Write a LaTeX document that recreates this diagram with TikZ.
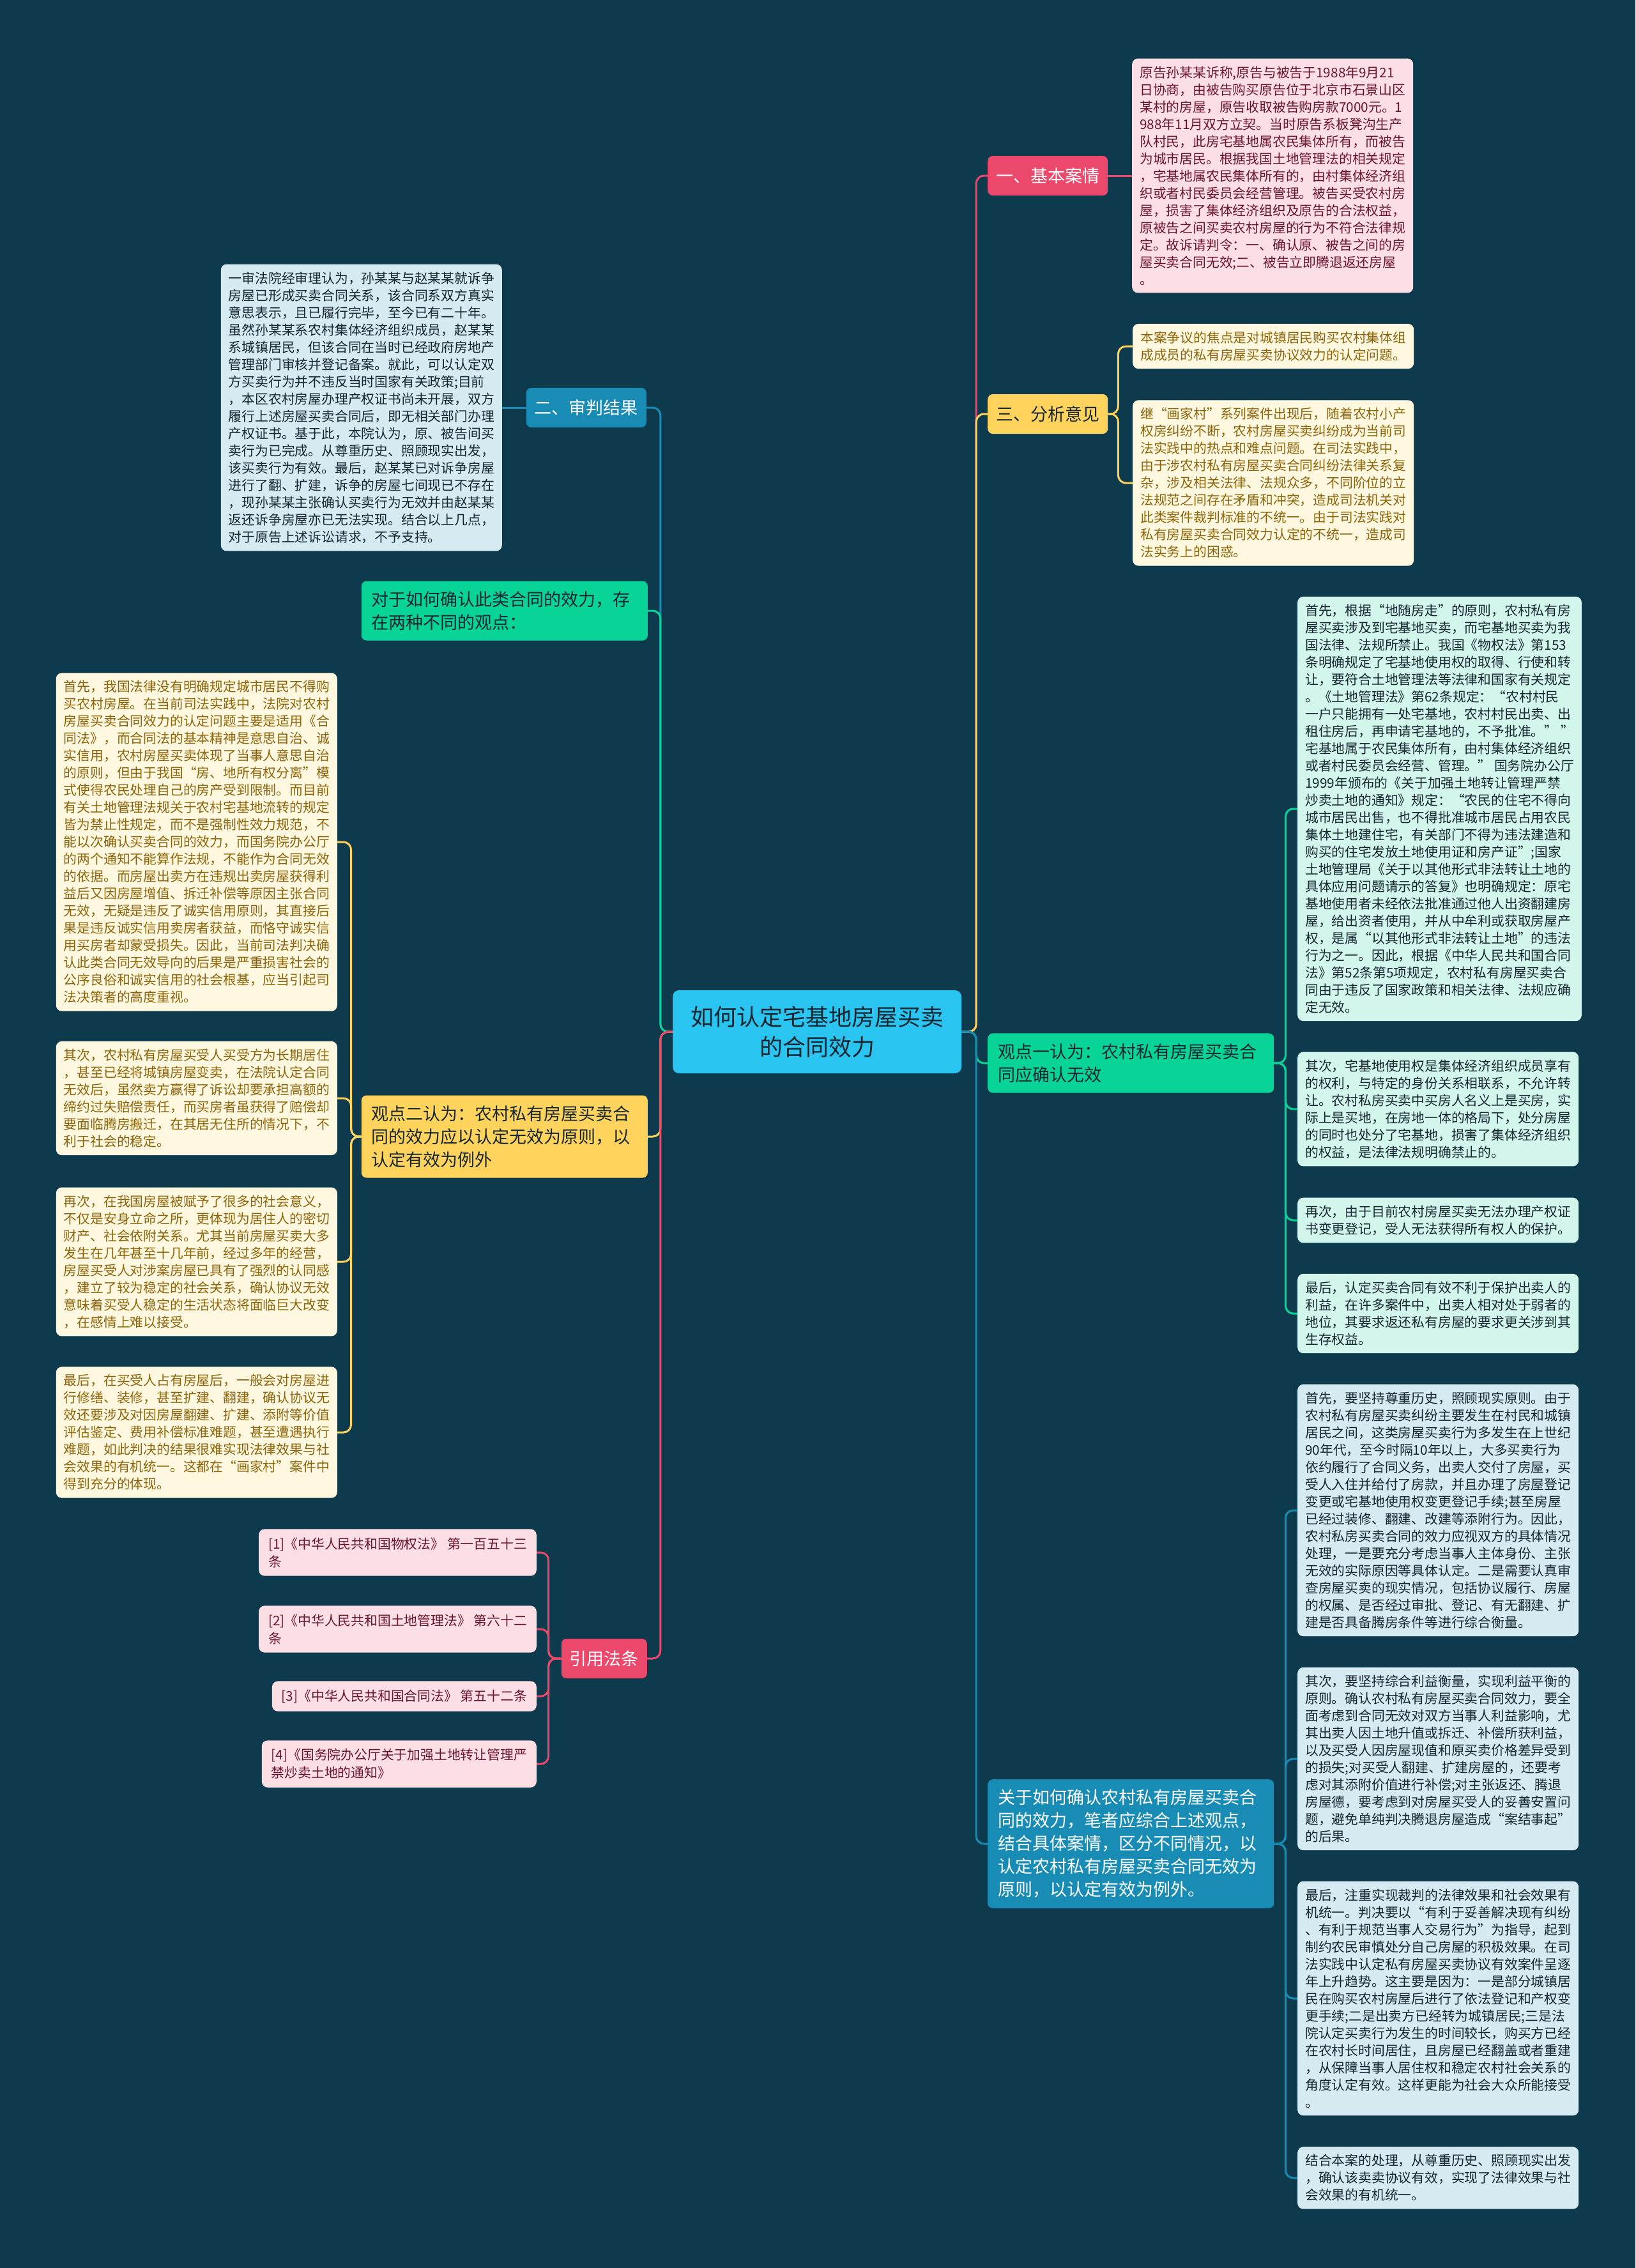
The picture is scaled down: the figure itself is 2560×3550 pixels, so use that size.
\documentclass[tikz,border=0pt]{standalone}
\usepackage{fontspec}
\setmainfont{Noto Sans CJK SC}
\usepackage{tikz}
\usetikzlibrary{positioning}
\definecolor{BgDark}{RGB}{13,58,77}
\definecolor{RoseMain}{RGB}{236,72,107}
\definecolor{RoseLight}{RGB}{252,222,229}
\definecolor{RoseText}{RGB}{105,22,45}
\definecolor{SunMain}{RGB}{255,211,92}
\definecolor{SunLight}{RGB}{255,248,224}
\definecolor{SunText}{RGB}{140,100,10}
\definecolor{SeaMain}{RGB}{25,140,182}
\definecolor{SeaLight}{RGB}{214,234,242}
\definecolor{MintMain}{RGB}{8,212,152}
\definecolor{MintLight}{RGB}{210,245,236}
\definecolor{SkyMain}{RGB}{42,196,240}
\definecolor{InkDark}{RGB}{22,38,48}

\begin{document}
\begin{tikzpicture}[x=1pt,y=-1pt,
 hubbox/.style={fill=SkyMain, text=InkDark, rounded corners=10pt, align=center, minimum width=452pt, minimum height=130pt, font=\fontsize{36}{47.5}\selectfont},
 topicbox/.style={rounded corners=8pt, minimum height=62pt, inner xsep=13pt, font=\fontsize{27}{36}\selectfont},
 widebox/.style={rounded corners=8pt, align=left, text width=416pt, inner xsep=16pt, inner ysep=16pt, font=\fontsize{27}{36}\selectfont},
 notebox/.style={rounded corners=9pt, align=left, inner xsep=12pt, inner ysep=12pt, font=\fontsize{20.8}{27}\selectfont},
 rosenote/.style={notebox, fill=RoseLight, text=RoseText},
 refbox/.style={rosenote, inner xsep=15pt, inner ysep=13pt, font=\fontsize{20.8}{28}\selectfont},
 sunnote/.style={notebox, fill=SunLight, text=SunText},
 seanote/.style={notebox, fill=SeaLight, text=InkDark},
 mintnote/.style={notebox, fill=MintLight, text=InkDark},
 linkrose/.style={draw=RoseMain, line width=3pt, rounded corners=12pt},
 linksun/.style={draw=SunMain, line width=3pt, rounded corners=12pt},
 linksea/.style={draw=SeaMain, line width=3pt, rounded corners=12pt},
 linkmint/.style={draw=MintMain, line width=3pt, rounded corners=12pt}
]
\fill[BgDark] (0,0) rectangle (2560,3550);

\node[hubbox] (ctr) at (1279,1615) {如何认定宅基地房屋买卖\\的合同效力};

\node[topicbox, fill=RoseMain, text=white, anchor=west] (jiben) at (1546,275) {一、基本案情};
\node[rosenote, anchor=west] (jibentxt) at (1772,275) {原告孙某某诉称,原告与被告于1988年9月21\\日协商，由被告购买原告位于北京市石景山区\\某村的房屋，原告收取被告购房款7000元。1\\988年11月双方立契。当时原告系板凳沟生产\\队村民，此房宅基地属农民集体所有，而被告\\为城市居民。根据我国土地管理法的相关规定\\，宅基地属农民集体所有的，由村集体经济组\\织或者村民委员会经营管理。被告买受农村房\\屋，损害了集体经济组织及原告的合法权益，\\原被告之间买卖农村房屋的行为不符合法律规\\定。故诉请判令：一、确认原、被告之间的房\\屋买卖合同无效;二、被告立即腾退返还房屋\\。};

\node[topicbox, fill=SunMain, text=InkDark, anchor=west] (fenxi) at (1546,648) {三、分析意见};
\node[sunnote, anchor=west] (fenxiA) at (1773,542) {本案争议的焦点是对城镇居民购买农村集体组\\成成员的私有房屋买卖协议效力的认定问题。};
\node[sunnote, anchor=west] (fenxiB) at (1773,756) {继“画家村”系列案件出现后，随着农村小产\\权房纠纷不断，农村房屋买卖纠纷成为当前司\\法实践中的热点和难点问题。在司法实践中，\\由于涉农村私有房屋买卖合同纠纷法律关系复\\杂，涉及相关法律、法规众多，不同阶位的立\\法规范之间存在矛盾和冲突，造成司法机关对\\此类案件裁判标准的不统一。由于司法实践对\\私有房屋买卖合同效力认定的不统一，造成司\\法实务上的困惑。};

\node[widebox, fill=MintMain, text=InkDark, anchor=west] (viewone) at (1546,1664) {观点一认为：农村私有房屋买卖合\\同应确认无效};
\node[mintnote, anchor=west] (oneA) at (2031,1266) {首先，根据“地随房走”的原则，农村私有房\\屋买卖涉及到宅基地买卖，而宅基地买卖为我\\国法律、法规所禁止。我国《物权法》第153\\条明确规定了宅基地使用权的取得、行使和转\\让，要符合土地管理法等法律和国家有关规定\\。《土地管理法》第62条规定：“农村村民\\一户只能拥有一处宅基地，农村村民出卖、出\\租住房后，再申请宅基地的，不予批准。” ”\\宅基地属于农民集体所有，由村集体经济组织\\或者村民委员会经营、管理。” 国务院办公厅\\1999年颁布的《关于加强土地转让管理严禁\\炒卖土地的通知》规定：“农民的住宅不得向\\城市居民出售，也不得批准城市居民占用农民\\集体土地建住宅，有关部门不得为违法建造和\\购买的住宅发放土地使用证和房产证”;国家\\土地管理局《关于以其他形式非法转让土地的\\具体应用问题请示的答复》也明确规定：原宅\\基地使用者未经依法批准通过他人出资翻建房\\屋，给出资者使用，并从中牟利或获取房屋产\\权，是属“以其他形式非法转让土地”的违法\\行为之一。因此，根据《中华人民共和国合同\\法》第52条第5项规定，农村私有房屋买卖合\\同由于违反了国家政策和相关法律、法规应确\\定无效。};
\node[mintnote, anchor=west] (oneB) at (2031,1736) {其次，宅基地使用权是集体经济组织成员享有\\的权利，与特定的身份关系相联系，不允许转\\让。农村私房买卖中买房人名义上是买房，实\\际上是买地，在房地一体的格局下，处分房屋\\的同时也处分了宅基地，损害了集体经济组织\\的权益，是法律法规明确禁止的。};
\node[mintnote, anchor=west] (oneC) at (2031,1910) {再次，由于目前农村房屋买卖无法办理产权证\\书变更登记，受人无法获得所有权人的保护。};
\node[mintnote, anchor=west] (oneD) at (2031,2056) {最后，认定买卖合同有效不利于保护出卖人的\\利益，在许多案件中，出卖人相对处于弱者的\\地位，其要求返还私有房屋的要求更关涉到其\\生存权益。};

\node[widebox, fill=SeaMain, text=white, anchor=west] (verdict) at (1546,2886) {关于如何确认农村私有房屋买卖合\\同的效力，笔者应综合上述观点，\\结合具体案情，区分不同情况，以\\认定农村私有房屋买卖合同无效为\\原则，以认定有效为例外。};
\node[seanote, anchor=west] (endA) at (2031,2364) {首先，要坚持尊重历史，照顾现实原则。由于\\农村私有房屋买卖纠纷主要发生在村民和城镇\\居民之间，这类房屋买卖行为多发生在上世纪\\90年代，至今时隔10年以上，大多买卖行为\\依约履行了合同义务，出卖人交付了房屋，买\\受人入住并给付了房款，并且办理了房屋登记\\变更或宅基地使用权变更登记手续;甚至房屋\\已经过装修、翻建、改建等添附行为。因此，\\农村私房买卖合同的效力应视双方的具体情况\\处理，一是要充分考虑当事人主体身份、主张\\无效的实际原因等具体认定。二是需要认真审\\查房屋买卖的现实情况，包括协议履行、房屋\\的权属、是否经过审批、登记、有无翻建、扩\\建是否具备腾房条件等进行综合衡量。};
\node[seanote, anchor=west] (endB) at (2031,2753) {其次，要坚持综合利益衡量，实现利益平衡的\\原则。确认农村私有房屋买卖合同效力，要全\\面考虑到合同无效对双方当事人利益影响，尤\\其出卖人因土地升值或拆迁、补偿所获利益，\\以及买受人因房屋现值和原买卖价格差异受到\\的损失;对买受人翻建、扩建房屋的，还要考\\虑对其添附价值进行补偿;对主张返还、腾退\\房屋德，要考虑到对房屋买受人的妥善安置问\\题，避免单纯判决腾退房屋造成“案结事起”\\的后果。};
\node[seanote, anchor=west] (endC) at (2031,3128) {最后，注重实现裁判的法律效果和社会效果有\\机统一。判决要以“有利于妥善解决现有纠纷\\、有利于规范当事人交易行为”为指导，起到\\制约农民审慎处分自己房屋的积极效果。在司\\法实践中认定私有房屋买卖协议有效案件呈逐\\年上升趋势。这主要是因为：一是部分城镇居\\民在购买农村房屋后进行了依法登记和产权变\\更手续;二是出卖方已经转为城镇居民;三是法\\院认定买卖行为发生的时间较长，购买方已经\\在农村长时间居住，且房屋已经翻盖或者重建\\，从保障当事人居住权和稳定农村社会关系的\\角度认定有效。这样更能为社会大众所能接受\\。};
\node[seanote, anchor=west] (endD) at (2031,3409) {结合本案的处理，从尊重历史、照顾现实出发\\，确认该卖卖协议有效，实现了法律效果与社\\会效果的有机统一。};

\node[topicbox, fill=SeaMain, text=white, anchor=east] (shenpan) at (1012,638) {二、审判结果};
\node[seanote, anchor=east] (shenpantxt) at (786,638) {一审法院经审理认为，孙某某与赵某某就诉争\\房屋已形成买卖合同关系，该合同系双方真实\\意思表示，且已履行完毕，至今已有二十年。\\虽然孙某某系农村集体经济组织成员，赵某某\\系城镇居民，但该合同在当时已经政府房地产\\管理部门审核并登记备案。就此，可以认定双\\方买卖行为并不违反当时国家有关政策;目前\\，本区农村房屋办理产权证书尚未开展，双方\\履行上述房屋买卖合同后，即无相关部门办理\\产权证书。基于此，本院认为，原、被告间买\\卖行为已完成。从尊重历史、照顾现实出发，\\该买卖行为有效。最后，赵某某已对诉争房屋\\进行了翻、扩建，诉争的房屋七间现已不存在\\，现孙某某主张确认买卖行为无效并由赵某某\\返还诉争房屋亦已无法实现。结合以上几点，\\对于原告上述诉讼请求，不予支持。};

\node[widebox, fill=MintMain, text=InkDark, anchor=east] (twoviews) at (1014,956) {对于如何确认此类合同的效力，存\\在两种不同的观点：};

\node[widebox, fill=SunMain, text=InkDark, anchor=east] (viewtwo) at (1014,1779) {观点二认为：农村私有房屋买卖合\\同的效力应以认定无效为原则，以\\认定有效为例外};
\node[sunnote, anchor=east] (twoA) at (528,1318) {首先，我国法律没有明确规定城市居民不得购\\买农村房屋。在当前司法实践中，法院对农村\\房屋买卖合同效力的认定问题主要是适用《合\\同法》，而合同法的基本精神是意思自治、诚\\实信用，农村房屋买卖体现了当事人意思自治\\的原则，但由于我国“房、地所有权分离”模\\式使得农民处理自己的房产受到限制。而目前\\有关土地管理法规关于农村宅基地流转的规定\\皆为禁止性规定，而不是强制性效力规范，不\\能以次确认买卖合同的效力，而国务院办公厅\\的两个通知不能算作法规，不能作为合同无效\\的依据。而房屋出卖方在违规出卖房屋获得利\\益后又因房屋增值、拆迁补偿等原因主张合同\\无效，无疑是违反了诚实信用原则，其直接后\\果是违反诚实信用卖房者获益，而恪守诚实信\\用买房者却蒙受损失。因此，当前司法判决确\\认此类合同无效导向的后果是严重损害社会的\\公序良俗和诚实信用的社会根基，应当引起司\\法决策者的高度重视。};
\node[sunnote, anchor=east] (twoB) at (528,1719) {其次，农村私有房屋买受人买受方为长期居住\\，甚至已经将城镇房屋变卖，在法院认定合同\\无效后，虽然卖方赢得了诉讼却要承担高额的\\缔约过失赔偿责任，而买房者虽获得了赔偿却\\要面临腾房搬迁，在其居无住所的情况下，不\\利于社会的稳定。};
\node[sunnote, anchor=east] (twoC) at (528,1975) {再次，在我国房屋被赋予了很多的社会意义，\\不仅是安身立命之所，更体现为居住人的密切\\财产、社会依附关系。尤其当前房屋买卖大多\\发生在几年甚至十几年前，经过多年的经营，\\房屋买受人对涉案房屋已具有了强烈的认同感\\，建立了较为稳定的社会关系，确认协议无效\\意味着买受人稳定的生活状态将面临巨大改变\\，在感情上难以接受。};
\node[sunnote, anchor=east] (twoD) at (528,2242) {最后，在买受人占有房屋后，一般会对房屋进\\行修缮、装修，甚至扩建、翻建，确认协议无\\效还要涉及对因房屋翻建、扩建、添附等价值\\评估鉴定、费用补偿标准难题，甚至遭遇执行\\难题，如此判决的结果很难实现法律效果与社\\会效果的有机统一。这都在“画家村”案件中\\得到充分的体现。};

\node[topicbox, fill=RoseMain, text=white, anchor=east] (yinyong) at (1013,2596) {引用法条};
\node[refbox, anchor=east] (refA) at (840,2430) {{[1]}《中华人民共和国物权法》 第一百五十三\\条};
\node[refbox, anchor=east] (refB) at (840,2550) {{[2]}《中华人民共和国土地管理法》 第六十二\\条};
\node[refbox, anchor=east] (refC) at (840,2655) {{[3]}《中华人民共和国合同法》 第五十二条};
\node[refbox, anchor=east] (refD) at (840,2761) {{[4]}《国务院办公厅关于加强土地转让管理严\\禁炒卖土地的通知》};

\draw[linksea] (ctr.west) -- ++(-19,0) |- (shenpan.east);
\draw[linkmint] (ctr.west) -- ++(-19,0) |- (twoviews.east);
\draw[linksun] (ctr.west) -- ++(-19,0) |- (viewtwo.east);
\draw[linkrose] (ctr.west) -- ++(-19,0) |- (yinyong.east);
\draw[linkrose] (ctr.east) -- ++(23,0) |- (jiben.west);
\draw[linksun] (ctr.east) -- ++(23,0) |- (fenxi.west);
\draw[linkmint] (ctr.east) -- ++(23,0) |- (viewone.west);
\draw[linksea] (ctr.east) -- ++(23,0) |- (verdict.west);

\draw[linkrose] (jiben.east) -- (jibentxt.west);
\draw[linksea] (shenpan.west) -- (shenpantxt.east);
\foreach \kid in {fenxiA,fenxiB} \draw[linksun] (fenxi.east) -- ++(16,0) |- (\kid.west);
\foreach \kid in {oneA,oneB,oneC,oneD} \draw[linkmint] (viewone.east) -- ++(18,0) |- (\kid.west);
\foreach \kid in {endA,endB,endC,endD} \draw[linksea] (verdict.east) -- ++(18,0) |- (\kid.west);
\foreach \kid in {twoA,twoB,twoC,twoD} \draw[linksun] (viewtwo.west) -- ++(-16,0) |- (\kid.east);
\foreach \kid in {refA,refB,refC,refD} \draw[linkrose] (yinyong.west) -- ++(-20,0) |- (\kid.east);
\end{tikzpicture}
\end{document}
